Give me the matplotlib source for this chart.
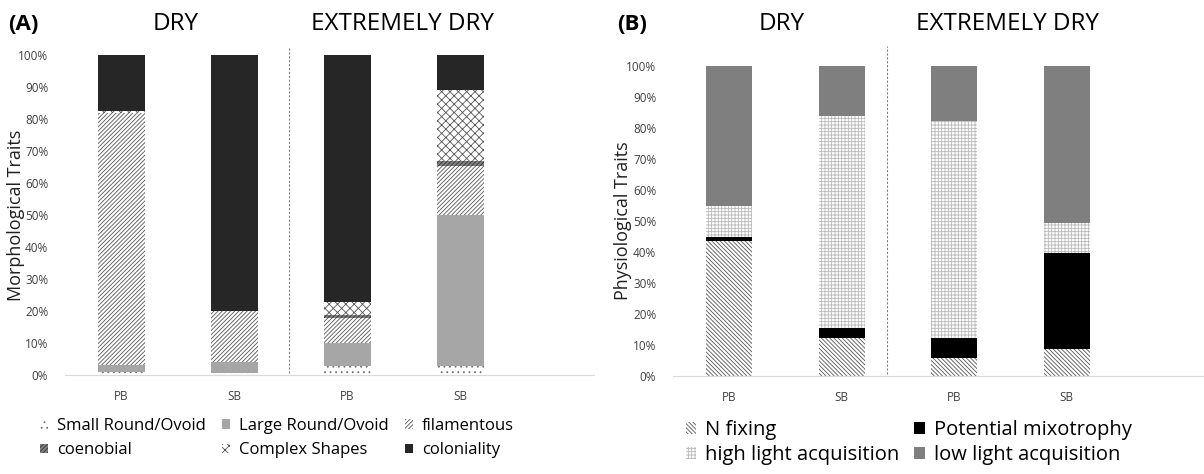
import matplotlib
matplotlib.use("Agg")
import matplotlib.pyplot as plt
from matplotlib.patches import Patch

plt.rcParams['font.family'] = ['Open Sans', 'DejaVu Sans']
plt.rcParams['hatch.linewidth'] = 0.6

# data (percent of community)
groups = ["DRY", "EXTREMELY DRY"]
site_labels = ["PB", "SB", "PB", "SB"]

# panel A - morphological traits
small_round = [1.0, 0.5, 2.9, 2.9]
large_round = [2.1, 3.7, 7.2, 47.1]
filamentous = [78.7, 15.9, 7.6, 15.4]
coenobial = [0.0, 0.0, 1.05, 1.6]
complex_shapes = [0.7, 0.0, 4.15, 22.1]
coloniality = [17.5, 79.9, 77.1, 10.9]

# panel B - physiological traits
n_fixing = [43.6, 12.3, 5.6, 8.6]
mixotrophy = [1.1, 3.2, 6.7, 31.0]
high_light = [10.1, 68.4, 69.9, 9.8]
low_light = [45.2, 16.1, 17.8, 50.6]

morph_series = [
    ("Small Round/Ovoid", small_round, dict(facecolor="white", edgecolor="#707070", hatch="...")),
    ("Large Round/Ovoid", large_round, dict(facecolor="#a6a6a6", edgecolor="#a6a6a6")),
    ("filamentous", filamentous, dict(facecolor="white", edgecolor="#555555", hatch="////////")),
    ("coenobial", coenobial, dict(facecolor="#808080", edgecolor="#333333", hatch="////////")),
    ("Complex Shapes", complex_shapes, dict(facecolor="white", edgecolor="#555555", hatch="xxxx")),
    ("coloniality", coloniality, dict(facecolor="#262626", edgecolor="#262626")),
]
phys_series = [
    ("N fixing", n_fixing, dict(facecolor="white", edgecolor="#555555", hatch="\\\\\\\\\\\\\\\\")),
    ("Potential mixotrophy", mixotrophy, dict(facecolor="black", edgecolor="black")),
    ("high light acquisition", high_light, dict(facecolor="white", edgecolor="#b8b8b8", hatch="+++++")),
    ("low light acquisition", low_light, dict(facecolor="#7f7f7f", edgecolor="#7f7f7f")),
]

fig = plt.figure(figsize=(12.04, 4.74), dpi=100)
axA = fig.add_axes([0.054, 0.2089, 0.4394, 0.6751])
axB = fig.add_axes([0.559, 0.2074, 0.441, 0.6534])


def draw_panel(ax, series, ylabel, xmax, divider_x, div_top, label_x):
    xs = list(range(len(site_labels)))
    bottom = [0.0] * len(xs)
    handles = []
    for name, vals, style in series:
        ax.bar(xs, [v / 100 for v in vals], width=0.41, bottom=bottom,
               linewidth=0, **style)
        bottom = [b + v / 100 for b, v in zip(bottom, vals)]
        handles.append(Patch(label=name, linewidth=0, **style))
    ax.set_xlim(-0.5, xmax)
    ax.set_ylim(0, 1)
    ax.set_yticks([i / 10 for i in range(11)])
    ax.set_yticklabels([f"{i * 10}%" for i in range(11)], fontsize=8.5, color="#404040")
    ax.set_xticks(xs)
    ax.set_xticklabels(site_labels, fontsize=8.5, color="#404040")
    ax.tick_params(length=0, pad=12)
    ax.tick_params(axis="x", pad=11)
    for s in ["top", "right", "left"]:
        ax.spines[s].set_visible(False)
    ax.spines["bottom"].set_color("#d9d9d9")
    ax.set_ylabel(ylabel, fontsize=13, color="#202020")
    ax.yaxis.set_label_coords(label_x, 0.5)
    ax.plot([divider_x, divider_x], [0.005, div_top], ls=(0, (2, 1.5)),
            lw=0.8, color="#808080", clip_on=False)
    return handles


hA = draw_panel(axA, morph_series, "Morphological Traits", 4.18, 1.48, 1.025, -0.076)
hB = draw_panel(axB, phys_series, "Physiological Traits", 4.22, 1.4, 1.065, -0.077)

# titles
ty = 1 - 24 / 474
fig.text(23 / 1204, ty, "(A)", fontsize=16, fontweight="bold", ha="center", va="center")
fig.text(176 / 1204, ty, groups[0], fontsize=17.5, ha="center", va="center")
fig.text(402 / 1204, ty, groups[1], fontsize=17.5, ha="center", va="center")
fig.text(632 / 1204, ty, "(B)", fontsize=16, fontweight="bold", ha="center", va="center")
fig.text(782 / 1204, ty, groups[0], fontsize=17.5, ha="center", va="center")
fig.text(1007 / 1204, ty, groups[1], fontsize=17.5, ha="center", va="center")

# legends, filled row by row like the original
orderA = [0, 3, 1, 4, 2, 5]
orderB = [0, 2, 1, 3]
fig.legend(handles=[hA[i] for i in orderA], ncol=3, loc="center left",
           bbox_to_anchor=(40 / 1204, 1 - 438 / 474),
           frameon=False, fontsize=12, handlelength=0.5, handleheight=0.5,
           handletextpad=0.5, columnspacing=1.0, labelspacing=0.5, borderpad=0,
           borderaxespad=0)
fig.legend(handles=[hB[i] for i in orderB], ncol=2, loc="center left",
           bbox_to_anchor=(686 / 1204, 1 - 442.5 / 474),
           frameon=False, fontsize=14.5, handlelength=0.5, handleheight=0.5,
           handletextpad=0.45, columnspacing=0.75, labelspacing=0.25, borderpad=0,
           borderaxespad=0)

fig.savefig("out.png", dpi=100)
